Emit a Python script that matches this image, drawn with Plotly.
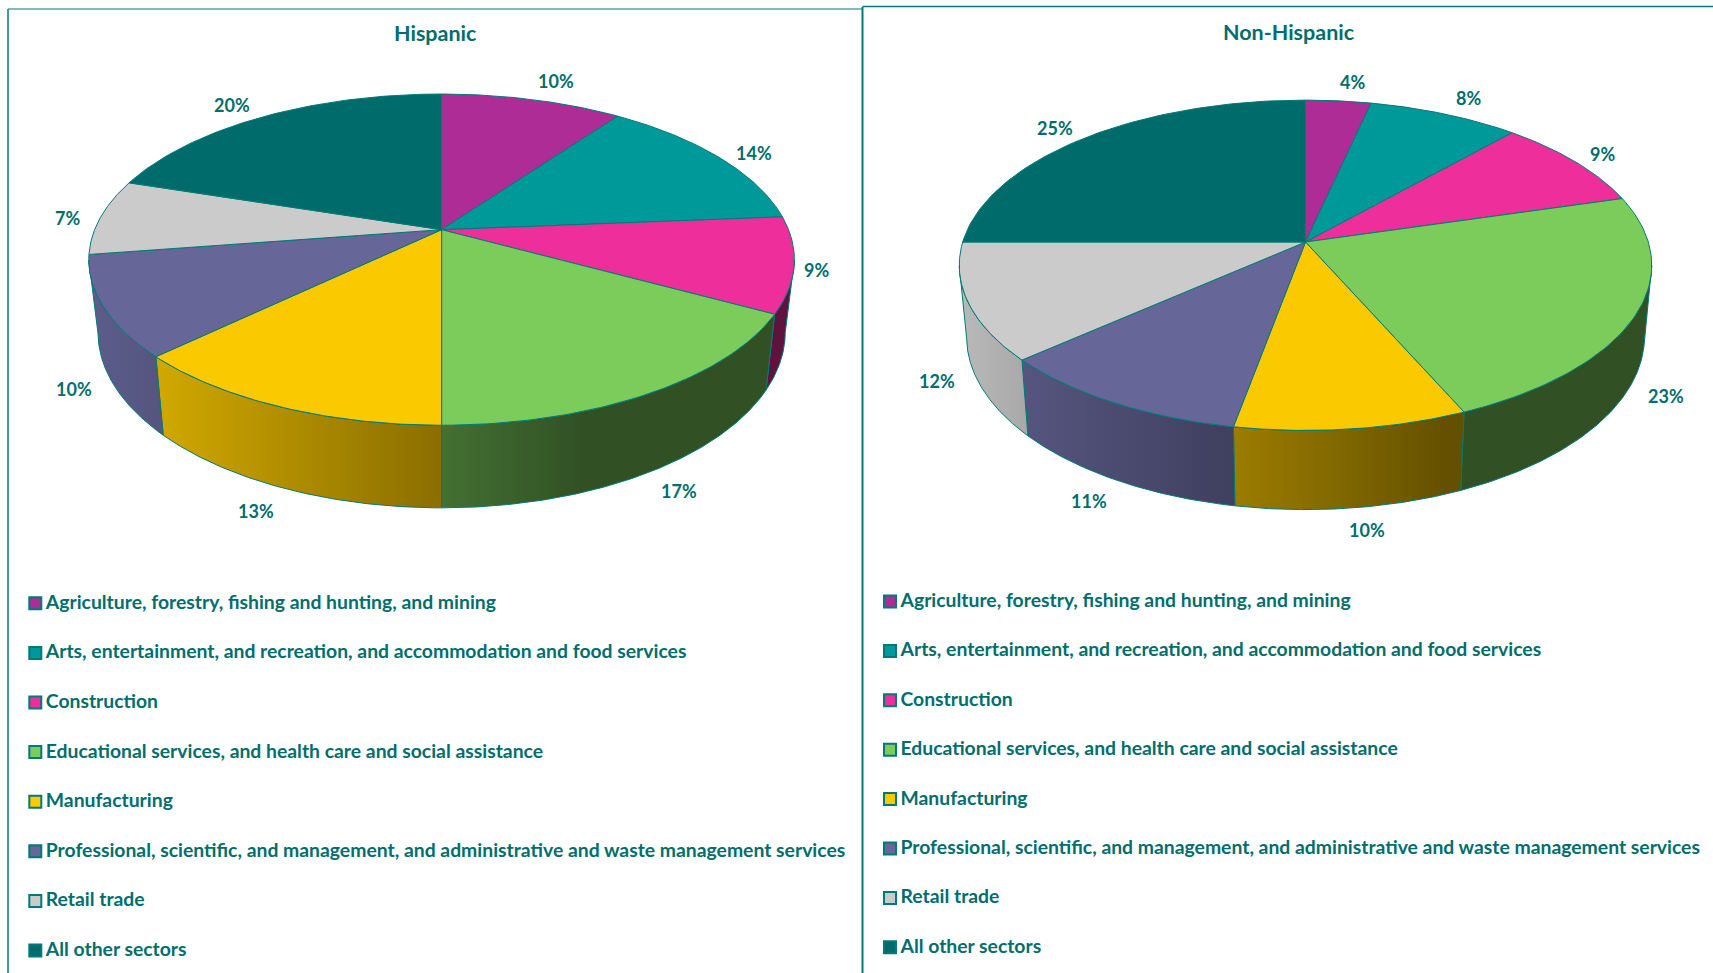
import numpy as np
import plotly.graph_objects as go

categories = [
    "Agriculture, forestry, fishing and hunting, and mining",
    "Arts, entertainment, and recreation, and accommodation and food services",
    "Construction",
    "Educational services, and health care and social assistance",
    "Manufacturing",
    "Professional, scientific, and management, and administrative and waste management services",
    "Retail trade",
    "All other sectors",
]
hispanic_share = [9.9, 13.8, 9.3, 17.0, 12.8, 9.8, 7.4, 20.0]
non_hispanic_share = [3.5, 8.1, 8.9, 22.9, 9.5, 10.6, 11.5, 25.0]
slice_colors = ["#AE2C96", "#009999", "#EE2E9B", "#7CCC5C", "#FBC900", "#666699", "#CBCBCB", "#006B6B"]

TEXT = "#006E6C"
EDGE = "#007A78"
FONT = "Lato"

pies = [
    dict(title="Hispanic", values=hispanic_share, cx=441.6, cy=229.7, a=347.0, b=160.2, q=0.1808,
         s=0.974, depth=82.6, slope=0.06, title_xy=(435, 33), legend_x=35.3, legend_y=603.3, legend_gap=49.6,
         nudge_x=[24, 35, 22, 28, -23, -29, -33, -32], nudge_y=[-19, -4, 6, 98, 104, 82, 1, -12]),
    dict(title="Non-Hispanic", values=non_hispanic_share, cx=1305.5, cy=242.0, a=342.8, b=161.9, q=0.1408,
         s=0.979, depth=79.2, slope=0.048, title_xy=(1289, 31.5), legend_x=890.0, legend_y=601.5, legend_gap=49.4,
         nudge_x=[14, 24, 27, 30, 15, -24, -31, -30], nudge_y=[-19, -16, -8, 81, 101, 98, 79, -10]),
]

SHADE_X = [-350, -286, 0, 140, 350]
SHADE_F = [0.92, 0.84, 0.55, 0.40, 0.40]


def rgb(hex_color, f=1.0):
    h = hex_color.lstrip("#")
    return "rgb({},{},{})".format(*[int(int(h[i:i + 2], 16) * f) for i in (0, 2, 4)])


def top_xy(p, pct):
    t = np.radians(np.asarray(pct) * 3.6)
    u, v = np.sin(t), np.cos(t)
    w = 1 + p["q"] * v
    return p["cx"] + p["a"] * u / w, p["cy"] - p["b"] * v / w, v


def bottom_xy(p, x, y):
    yfront = p["cy"] + p["b"] / (1 - p["q"])
    return p["cx"] + p["s"] * (x - p["cx"]), y + p["depth"] + p["slope"] * (y - yfront)


fig = go.Figure()
annotations = []

for p in pies:
    edges = np.concatenate([[0], np.cumsum(p["values"])])
    edges = edges / edges[-1] * 100
    rx = p["a"] / np.sqrt(1 - p["q"] ** 2)

    # side walls first: only the part of the rim in front of the widest point shows
    for i, col in enumerate(slice_colors):
        pct = np.linspace(edges[i], edges[i + 1], 160)
        x, y, v = top_xy(p, pct)
        keep = v < -p["q"]
        if keep.sum() < 2:
            continue
        x, y = x[keep], y[keep]
        bx, by = bottom_xy(p, x, y)
        offs = np.linspace(-rx, rx, 21)
        stops = [[float(k / 20), rgb(col, float(np.interp(o, SHADE_X, SHADE_F)))] for k, o in enumerate(offs)]
        fig.add_trace(go.Scatter(
            x=np.concatenate([x, bx[::-1], x[:1]]), y=np.concatenate([y, by[::-1], y[:1]]),
            mode="lines", fill="toself", line=dict(color=EDGE, width=1),
            fillgradient=dict(type="horizontal", colorscale=stops, start=p["cx"] - rx, stop=p["cx"] + rx),
            hoverinfo="skip", showlegend=False))

    # top faces and value labels
    for i, col in enumerate(slice_colors):
        pct = np.linspace(edges[i], edges[i + 1], 80)
        x, y, _ = top_xy(p, pct)
        fig.add_trace(go.Scatter(
            x=np.concatenate([[p["cx"]], x, [p["cx"]]]), y=np.concatenate([[p["cy"]], y, [p["cy"]]]),
            mode="lines", fill="toself", fillcolor=col, line=dict(color=EDGE, width=1),
            name=categories[i], hoverinfo="name", showlegend=False))
        mx, my, _ = top_xy(p, (edges[i] + edges[i + 1]) / 2)
        annotations.append(dict(
            x=float(mx), y=float(my), xref="x", yref="y", showarrow=False,
            xshift=p["nudge_x"][i], yshift=-p["nudge_y"][i], text=f"{round(p['values'][i])}%",
            font=dict(family=FONT, size=18, color=TEXT, weight=700)))

    # legend column
    rows = [p["legend_y"] + k * p["legend_gap"] for k in range(len(categories))]
    fig.add_trace(go.Scatter(
        x=[p["legend_x"]] * len(categories), y=rows, mode="markers",
        marker=dict(symbol="square", size=12, color=slice_colors, line=dict(color=EDGE, width=2)),
        hoverinfo="skip", showlegend=False))
    fig.add_trace(go.Scatter(
        x=[p["legend_x"] + 10.5] * len(categories), y=[r + 0.7 for r in rows], mode="text", text=categories,
        textposition="middle right",
        textfont=dict(family=FONT, size=19.35, color=TEXT, weight=700),
        hoverinfo="skip", showlegend=False))

    annotations.append(dict(
        x=p["title_xy"][0], y=p["title_xy"][1], xref="x", yref="y", showarrow=False, text=p["title"],
        font=dict(family=FONT, size=21.5, color=TEXT, weight=700)))

shapes = [
    dict(type="line", x0=8, x1=8, y0=9, y1=973, line=dict(color=EDGE, width=1.5)),
    dict(type="line", x0=8, x1=862, y0=9, y1=9, line=dict(color=EDGE, width=1.2)),
    dict(type="line", x0=862.5, x1=862.5, y0=7, y1=973, line=dict(color=EDGE, width=2)),
    dict(type="line", x0=862.5, x1=1713, y0=6.5, y1=6.5, line=dict(color=EDGE, width=1.5)),
]

fig.update_layout(
    width=1713, height=973, margin=dict(l=0, r=0, t=0, b=0),
    paper_bgcolor="white", plot_bgcolor="white", showlegend=False,
    xaxis=dict(range=[0, 1713], visible=False, fixedrange=True),
    yaxis=dict(range=[973, 0], visible=False, fixedrange=True),
    annotations=annotations, shapes=shapes,
)

fig.write_html("out.html", config=dict(displayModeBar=False),
               post_script="document.body.style.margin='0';document.documentElement.style.overflow='hidden';")
